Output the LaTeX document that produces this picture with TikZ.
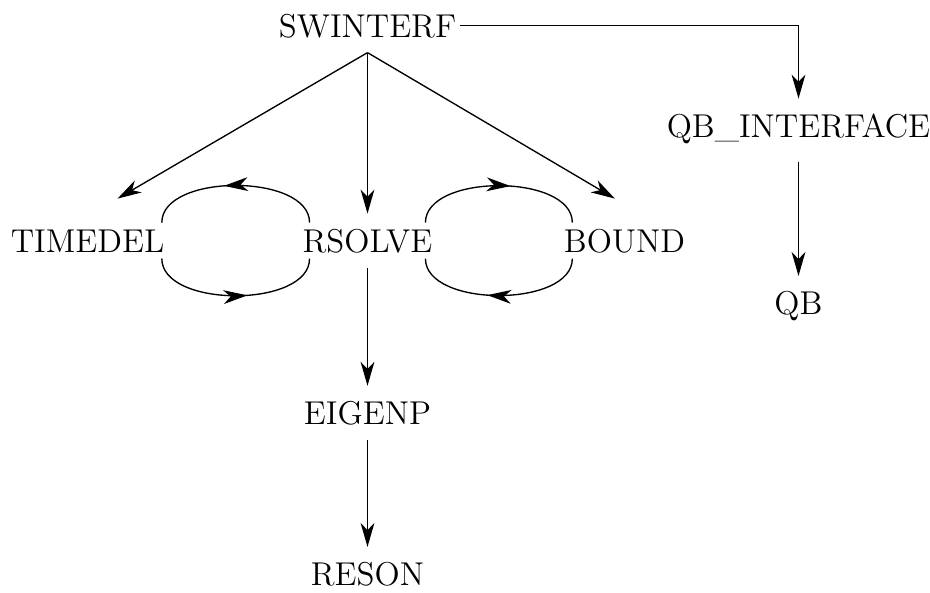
\documentclass[tikz,border=0pt]{standalone}
\usetikzlibrary{arrows.meta, positioning, decorations.markings}

\tikzstyle{prog} = [inner xsep=1pt, inner ysep=5pt, text height=7.6pt, text depth=0pt, font=\fontsize{11}{13}\selectfont]
\tikzstyle{call} = [line width=0.45pt, -{Stealth[length=8pt,width=4.6pt,inset=2.4pt]}]
\tikzstyle{mutual} = [line width=0.45pt, postaction={decorate}, decoration={markings, mark=at position 0.565 with {\arrow{Stealth[length=8pt,width=4.6pt,inset=2.4pt]}}}]

\begin{document}
\begin{tikzpicture}[x=0.3333pt, y=0.3333pt]
  \useasboundingbox (0,0) rectangle (930,592);
  \node[prog] (swinterf) at (367.5,566.4) {SWINTERF};
  \node[prog] (timedel) at (87.5,351.4) {TIMEDEL};
  \node[prog] (rsolve) at (367.5,351.4) {RSOLVE};
  \node[prog] (bound) at (624.5,351.4) {BOUND};
  \node[prog] (qbinterface) at (798.5,466.4) {QB\_INTERFACE};
  \node[prog, below=41.1pt of qbinterface] (qb) {QB};
  \node[prog, below=39.4pt of rsolve] (eigenp) {EIGENP};
  \node[prog, inner ysep=3.5pt, below=37.2pt of eigenp] (reson) {RESON};

  \draw[call] (swinterf.south) -- ([xshift=10pt,yshift=5pt]timedel.north);
  \draw[call] (swinterf.south) -- (rsolve.north);
  \draw[call] (swinterf.south) -- ([xshift=-3.2pt,yshift=5pt]bound.north);
  \draw[call] (swinterf.east) -| (qbinterface.north);
  \draw[call] ([yshift=-3pt]qbinterface.south) -- (qb.north);
  \draw[call] (rsolve.south) -- (eigenp.north);
  \draw[call] (eigenp.south) -- ([yshift=1.5pt]reson.north);

  % rsolve calls back and forth
  \draw[mutual] ([xshift=3.5pt,yshift=6pt]rsolve.west) to[out=90,in=90,looseness=0.86] ([xshift=-2pt,yshift=6pt]timedel.east);
  \draw[mutual] ([xshift=-2pt,yshift=-6pt]timedel.east) to[out=-90,in=-90,looseness=0.86] ([xshift=3.5pt,yshift=-6pt]rsolve.west);
  \draw[mutual] ([xshift=-3.5pt,yshift=6pt]rsolve.east) to[out=90,in=90,looseness=0.86] ([xshift=4pt,yshift=6pt]bound.west);
  \draw[mutual] ([xshift=4pt,yshift=-6pt]bound.west) to[out=-90,in=-90,looseness=0.86] ([xshift=-3.5pt,yshift=-6pt]rsolve.east);
\end{tikzpicture}
\end{document}
